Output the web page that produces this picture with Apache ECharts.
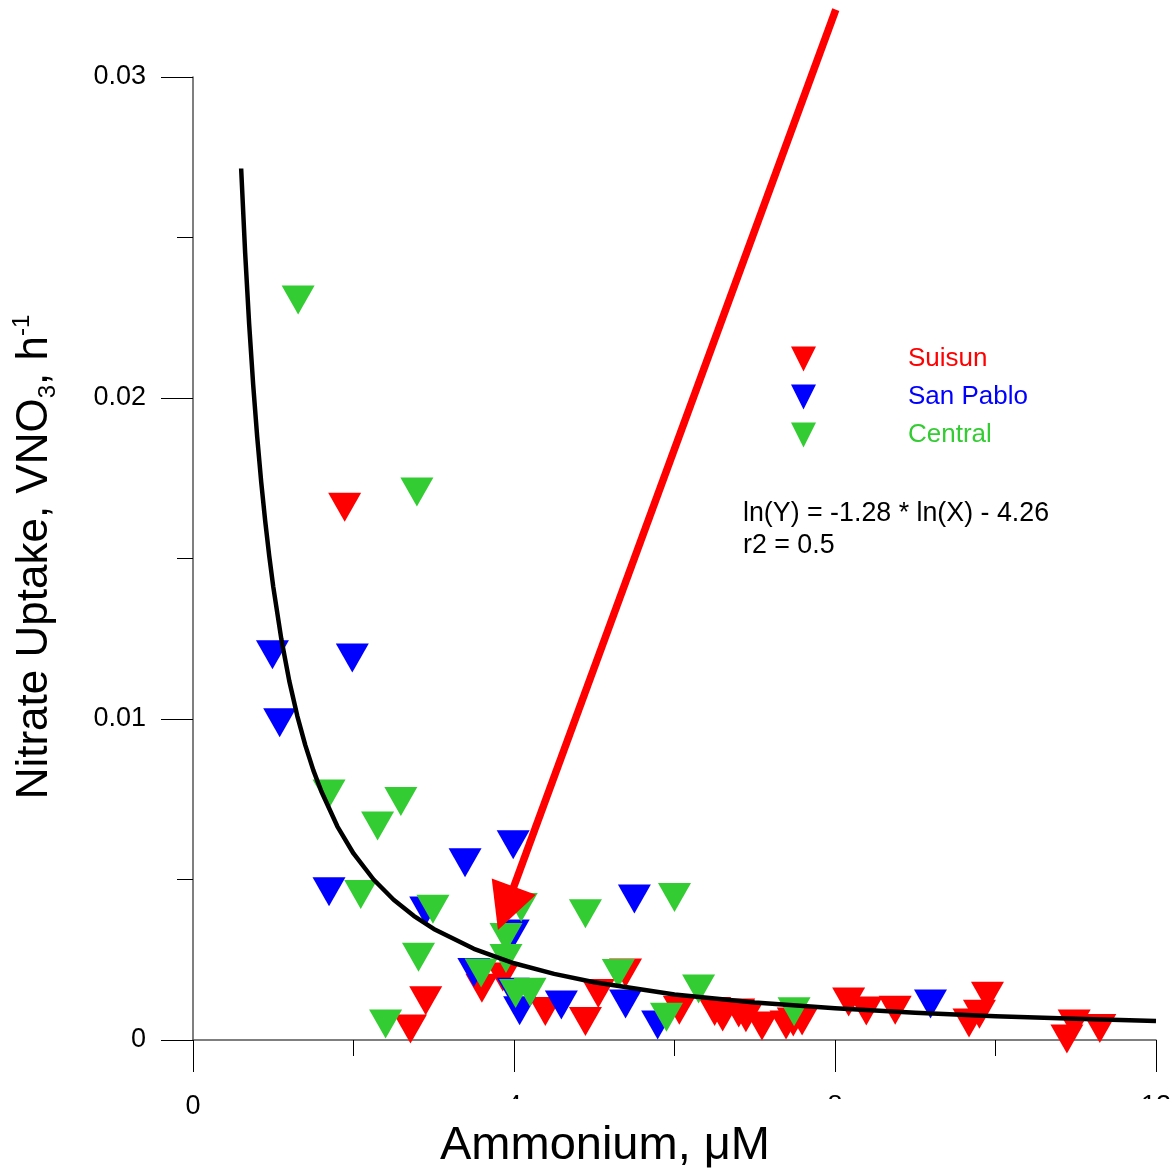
<!DOCTYPE html>
<html><head><meta charset="utf-8">
<script src="https://cdn.jsdelivr.net/npm/echarts@6/dist/echarts.min.js"></script>
<style>html,body{margin:0;padding:0;background:#fff}#c{width:1171px;height:1171px}</style>
</head><body><div id="c"></div>
<script>
// ---- data ----
const seriesNames = ['Suisun', 'San Pablo', 'Central'];
const suisun = [
  [1.89,0.0166],[2.90,0.00122],[2.71,0.00034],[3.60,0.00161],[3.86,0.00196],
  [4.39,0.00089],[4.89,0.00058],[5.05,0.00145],[5.39,0.00209],[6.06,0.00093],
  [6.50,0.00089],[6.60,0.00072],[6.80,0.00084],[6.89,0.00069],[7.09,0.00044],
  [7.39,0.00047],[7.48,0.00056],[7.59,0.00059],[8.17,0.00118],[8.39,0.00090],
  [8.75,0.00093],[9.90,0.00136],[9.80,0.00080],[9.67,0.00053],[10.98,0.00050],
  [10.89,0.00003],[11.30,0.00036]
];
const sanPablo = [
  [0.99,0.0120],[1.985,0.0119],[1.08,0.00988],[3.99,0.00608],[3.39,0.00552],
  [1.695,0.00462],[2.90,0.00402],[5.50,0.00439],[3.99,0.00330],[3.50,0.00210],
  [3.99,0.00149],[4.07,0.00091],[4.59,0.00109],[5.39,0.00112],[5.79,0.00047],
  [9.19,0.00112]
];
const central = [
  [1.31,0.02305],[2.79,0.01707],[1.695,0.00766],[2.59,0.00743],[2.30,0.00667],
  [2.09,0.00453],[2.99,0.00407],[4.89,0.00393],[4.09,0.00413],[2.81,0.00258],
  [2.40,0.00050],[3.90,0.00319],[3.90,0.00254],[3.59,0.00209],[4.02,0.00145],
  [4.20,0.00149],[5.30,0.00207],[5.90,0.00071],[6.00,0.00444],[6.30,0.00159],
  [7.49,0.00088]
];
// fitted curve ln(Y) = -1.28 ln(X) - 4.26
const fitCurve = [
  [0.6,0.02715],[0.65,0.02451],[0.7,0.02229],[0.75,0.02041],[0.8,0.01879],
  [0.85,0.01738],[0.9,0.01616],[0.95,0.01508],[1.0,0.01412],[1.1,0.01250],
  [1.2,0.01118],[1.3,0.01009],[1.4,0.00918],[1.5,0.00840],[1.6,0.00774],
  [1.8,0.00665],[2.0,0.00581],[2.25,0.00500],[2.5,0.00437],[2.75,0.00387],
  [3.0,0.00346],[3.5,0.00284],[4.0,0.00239],[4.5,0.00206],[5.0,0.00180],
  [6.0,0.00142],[7.0,0.00117],[8.0,0.00099],[9.0,0.00085],[10.0,0.00074],
  [11.0,0.00066],[12.0,0.00059]
];
const arrowFrom = [8.01, 0.0321];
const arrowTo = [3.80, 0.00343];
const xTickValues = [0, 4, 8, 12];
const yTickValues = [0, 0.01, 0.02, 0.03];
const equationLines = ['ln(Y) = -1.28 * ln(X) - 4.26', 'r2 = 0.5'];

// ---- styling ----
const FONT = "'Liberation Sans', Arial, sans-serif";
const colors = ['#ff0000', '#0000ff', '#33cc33'];
const tri = 'path://M0,0L2,0L1,2Z';

const chart = echarts.init(document.getElementById('c'), null, {renderer: 'canvas'});

const axisCommon = {
  axisLine: {show: true, onZero: false, lineStyle: {color: '#555', width: 1.5}},
  axisTick: {show: true, inside: false, length: 32, lineStyle: {color: '#000', width: 1}},
  minorTick: {show: true, splitNumber: 2, length: 16, lineStyle: {color: '#000', width: 1}},
  splitLine: {show: false},
  minorSplitLine: {show: false}
};

const dataSets = [suisun, sanPablo, central];
const series = dataSets.map((d, i) => ({
  name: seriesNames[i], type: 'scatter', data: d,
  symbol: tri, symbolSize: [33, 29],
  itemStyle: {color: colors[i], opacity: 1},
  z: 2 + i, animation: false
}));
series.push({
  name: 'fit', type: 'line', data: fitCurve, smooth: false,
  showSymbol: false, symbol: 'none', silent: true,
  lineStyle: {color: '#000', width: 4.5, join: 'round', cap: 'butt'}, z: 10, animation: false
});

chart.setOption({
  animation: false,
  backgroundColor: '#fff',
  grid: {left: 193, right: 15, top: 77, bottom: 131, containLabel: false, outerBoundsMode: 'none'},
  xAxis: Object.assign({
    type: 'value',
    min: xTickValues[0], max: xTickValues[xTickValues.length - 1],
    interval: xTickValues[1] - xTickValues[0],
    axisLabel: {show: true, margin: 53, fontSize: 27, color: '#000', fontFamily: FONT,
      showMinLabel: true, showMaxLabel: true, verticalAlign: 'top'}
  }, axisCommon),
  yAxis: Object.assign({
    type: 'value',
    min: yTickValues[0], max: yTickValues[yTickValues.length - 1],
    interval: yTickValues[1] - yTickValues[0],
    axisLabel: {show: true, margin: 47, fontSize: 27, color: '#000', fontFamily: FONT,
      showMinLabel: true, showMaxLabel: true,
      formatter: v => String(+v.toFixed(3))}
  }, axisCommon),
  legend: {
    show: true, orient: 'vertical', left: 786, top: 341,
    itemWidth: 29, itemHeight: 25, itemGap: 12,
    icon: tri,
    data: seriesNames.map((n, i) => ({name: n, icon: tri,
      textStyle: {color: colors[i]}})),
    textStyle: {fontSize: 26, fontFamily: FONT, lineHeight: 25, padding: [0, 0, 0, 85]},
    selectedMode: false
  },
  series: series
});

// ---- annotation graphics (arrow positioned via axes) ----
const p1 = chart.convertToPixel({gridIndex: 0}, arrowFrom);
const p2 = chart.convertToPixel({gridIndex: 0}, arrowTo);
const dx = p2[0] - p1[0], dy = p2[1] - p1[1];
const L = Math.hypot(dx, dy), ux = dx / L, uy = dy / L;
const headLen = 46, headHalf = 23.5;
const bx = p2[0] - ux * headLen, by = p2[1] - uy * headLen;
const nx = -uy, ny = ux;

chart.setOption({
  graphic: [
    {type: 'rect', id: 'mask', z: 100, shape: {x: 300, y: 1099, width: 871, height: 72},
      style: {fill: '#fff'}, silent: true},
    {type: 'text', id: 'xTitle', z: 101, x: 605, y: 1146,
      style: {text: 'Ammonium, μM', font: '47px ' + FONT, fill: '#000',
        align: 'center', verticalAlign: 'middle'}},
    {type: 'text', id: 'yTitle', z: 101, x: 35, y: 557, rotation: Math.PI / 2,
      style: {
        text: '{a|Nitrate Uptake, VNO}{s|3}{a|, h}{p|-1}',
        align: 'center', verticalAlign: 'middle', fill: '#000',
        rich: {
          a: {fontSize: 44, fontFamily: FONT, lineHeight: 50, fill: '#000'},
          s: {fontSize: 24, fontFamily: FONT, lineHeight: 24, verticalAlign: 'bottom', fill: '#000'},
          p: {fontSize: 24, fontFamily: FONT, lineHeight: 30, verticalAlign: 'top', fill: '#000'}
        }
      }},
    {type: 'text', id: 'eq1', z: 101, x: 743, y: 514,
      style: {text: equationLines[0], font: '26.8px ' + FONT, fill: '#000', align: 'left', verticalAlign: 'middle'}},
    {type: 'text', id: 'eq2', z: 101, x: 743, y: 546,
      style: {text: equationLines[1], font: '26.8px ' + FONT, fill: '#000', align: 'left', verticalAlign: 'middle'}},
    {type: 'line', id: 'arrowLine', z: 50,
      shape: {x1: p1[0], y1: p1[1], x2: bx + ux * 3, y2: by + uy * 3},
      style: {stroke: '#ff0000', lineWidth: 7.5}},
    {type: 'polygon', id: 'arrowHead', z: 51,
      shape: {points: [[p2[0], p2[1]], [bx + nx * headHalf, by + ny * headHalf], [bx - nx * headHalf, by - ny * headHalf]]},
      style: {fill: '#ff0000'}}
  ]
});
</script>
</body></html>
